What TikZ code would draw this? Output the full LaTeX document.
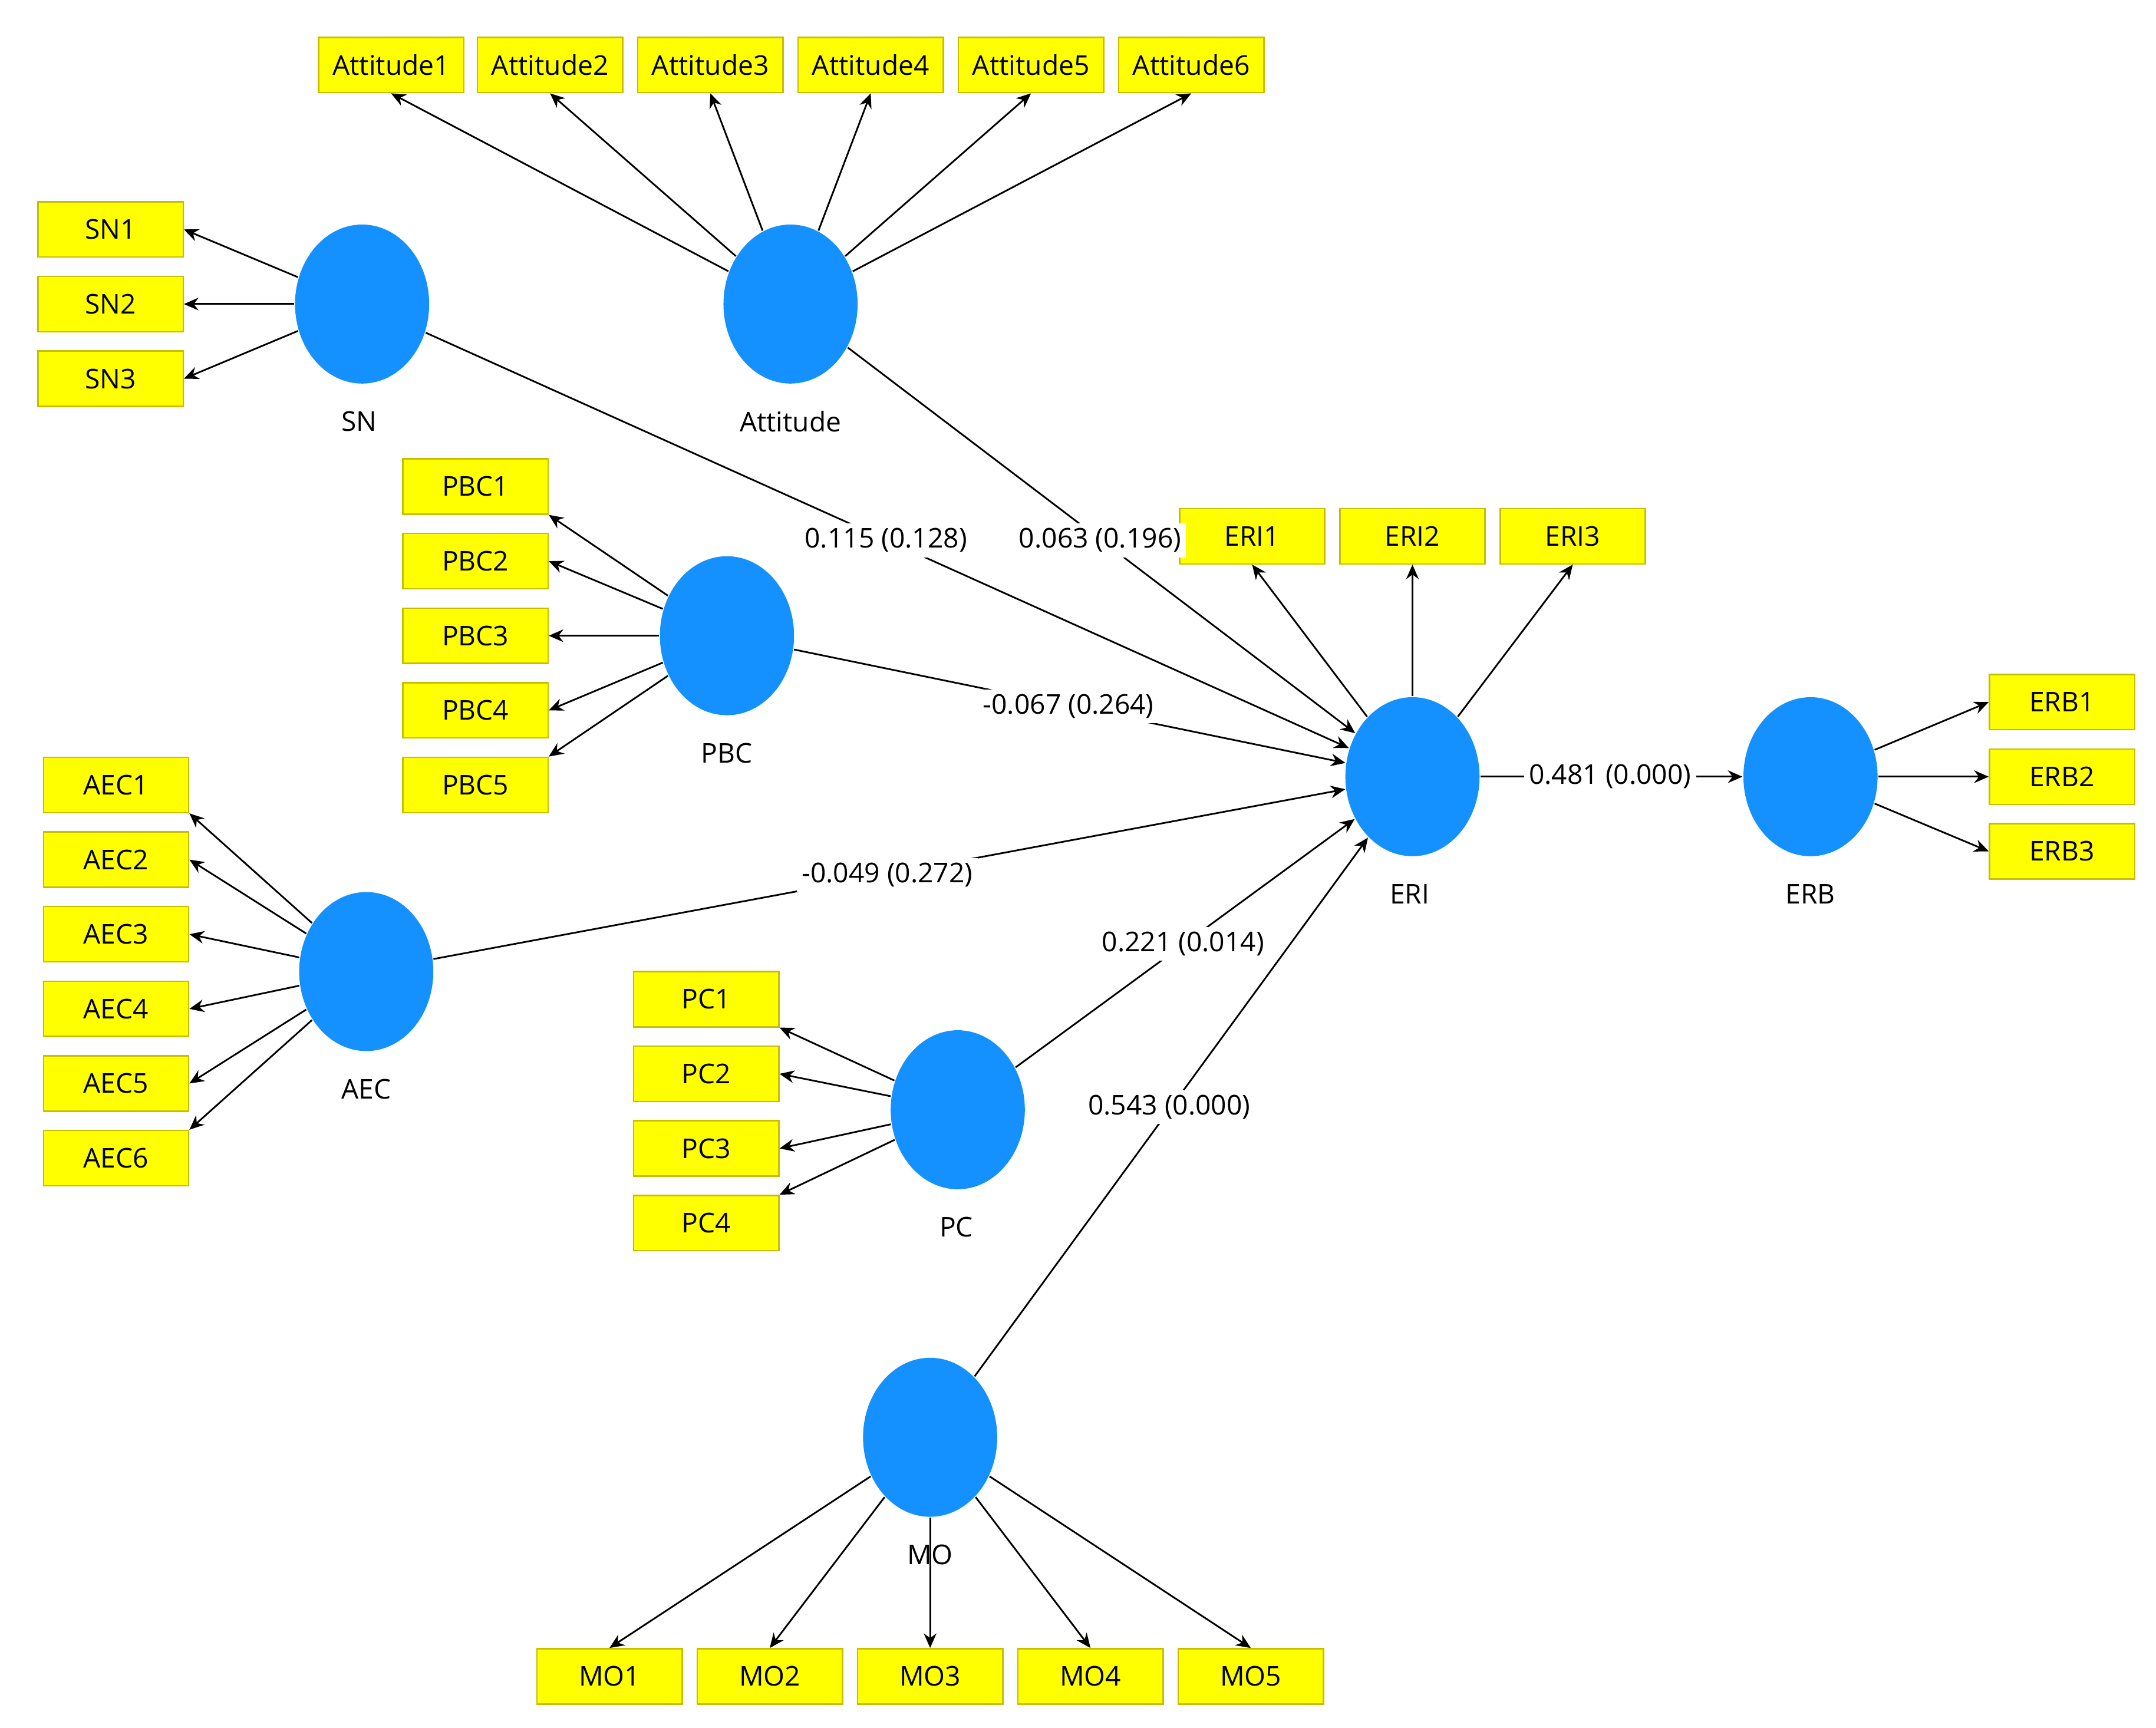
\documentclass[tikz,border=0pt]{standalone}
\usepackage{fontspec}
\setmainfont{Open Sans}
\usetikzlibrary{arrows.meta,shapes.geometric}
\definecolor{boxy}{RGB}{255,255,0}
\definecolor{boxb}{RGB}{200,190,0}
\definecolor{lv}{RGB}{20,145,255}
\begin{document}
\begin{tikzpicture}[x=0.01cm,y=-0.01cm,
  ind/.style={draw=boxb,fill=boxy,line width=0.3pt,minimum width=1.05cm,minimum height=0.4cm,inner sep=0pt,font=\fontsize{5.6}{6}\selectfont},
  lat/.style={ellipse,fill=lv,minimum width=0.97cm,minimum height=1.15cm,inner sep=0pt},
  lab/.style={font=\fontsize{5.6}{6}\selectfont,inner sep=1pt},
  coef/.style={font=\fontsize{5.6}{6}\selectfont,fill=white,inner sep=1pt},
  ar/.style={-{Stealth[length=3pt,width=2.6pt]},line width=0.35pt}]
\useasboundingbox (0,0) rectangle (1560,1250);
% latent variables
\node[lat] (SN) at (262,220) {}; \node[lab] (SNl) at (260,305) {SN};
\node[lat] (ATT) at (572,220) {}; \node[lab] (ATTl) at (572,305) {Attitude};
\node[lat] (PBC) at (526,460) {}; \node[lab] (PBCl) at (526,545) {PBC};
\node[lat] (ERI) at (1022,562) {}; \node[lab] (ERIl) at (1020,647) {ERI};
\node[lat] (ERB) at (1310,562) {}; \node[lab] (ERBl) at (1310,647) {ERB};
\node[lat] (AEC) at (265,703) {}; \node[lab] (AECl) at (265,788) {AEC};
\node[lat] (PC) at (693,803) {}; \node[lab] (PCl) at (692,888) {PC};
\node[lat] (MO) at (673,1040) {};
% indicators
\foreach \i/\x in {1/283,2/398,3/514,4/630,5/746,6/862}{
  \node[ind] (A\i) at (\x,47) {Attitude\i};
  \draw[ar] (ATT) -- (A\i.south);}
\foreach \i/\y in {1/166,2/220,3/274}{
  \node[ind] (SN\i) at (80,\y) {SN\i};
  \draw[ar] (SN) -- (SN\i.east);}
\foreach \i/\y in {1/352,2/406,3/460,4/514,5/568}{
  \node[ind] (PBC\i) at (344,\y) {PBC\i};}
\draw[ar] (PBC) -- (PBC1.south east);
\draw[ar] (PBC) -- (PBC2.east);
\draw[ar] (PBC) -- (PBC3.east);
\draw[ar] (PBC) -- (PBC4.east);
\draw[ar] (PBC) -- (PBC5.north east);
\foreach \i/\x in {1/906,2/1022,3/1138}{
  \node[ind] (ERI\i) at (\x,388) {ERI\i};
  \draw[ar] (ERI) -- (ERI\i.south);}
\foreach \i/\y in {1/508,2/562,3/616}{
  \node[ind] (ERB\i) at (1492,\y) {ERB\i};
  \draw[ar] (ERB) -- (ERB\i.west);}
\foreach \i/\y in {1/568,2/622,3/676,4/730,5/784,6/838}{
  \node[ind] (AEC\i) at (84,\y) {AEC\i};}
\draw[ar] (AEC) -- (AEC1.south east);
\draw[ar] (AEC) -- (AEC2.east);
\draw[ar] (AEC) -- (AEC3.east);
\draw[ar] (AEC) -- (AEC4.east);
\draw[ar] (AEC) -- (AEC5.east);
\draw[ar] (AEC) -- (AEC6.north east);
\foreach \i/\y in {1/723,2/777,3/831,4/885}{
  \node[ind] (PC\i) at (511,\y) {PC\i};}
\draw[ar] (PC) -- (PC1.south east);
\draw[ar] (PC) -- (PC2.east);
\draw[ar] (PC) -- (PC3.east);
\draw[ar] (PC) -- (PC4.north east);
\foreach \i/\x in {1/441,2/557,3/673,4/789,5/905}{
  \node[ind] (MO\i) at (\x,1213) {MO\i};
  \draw[ar] (MO) -- (MO\i.north);}
\node[lab] (MOl) at (673,1125) {MO};
% structural paths
\draw[ar] (SN) -- (ERI);
\draw[ar] (ATT) -- (ERI);
\draw[ar] (PBC) -- (ERI);
\draw[ar] (AEC) -- (ERI);
\draw[ar] (PC) -- (ERI);
\draw[ar] (MO) -- (ERI);
\draw[ar] (ERI) -- (ERB);
\node[coef] (c1) at (641,391) {0.115 (0.128)};
\node[coef] (c2) at (796,391) {0.063 (0.196)};
\node[coef] (c3) at (773,511) {-0.067 (0.264)};
\node[coef] (c4) at (642,633) {-0.049 (0.272)};
\node[coef] (c5) at (856,683) {0.221 (0.014)};
\node[coef] (c6) at (846,801) {0.543 (0.000)};
\node[coef] (c7) at (1165,562) {0.481 (0.000)};
\end{tikzpicture}
\end{document}
